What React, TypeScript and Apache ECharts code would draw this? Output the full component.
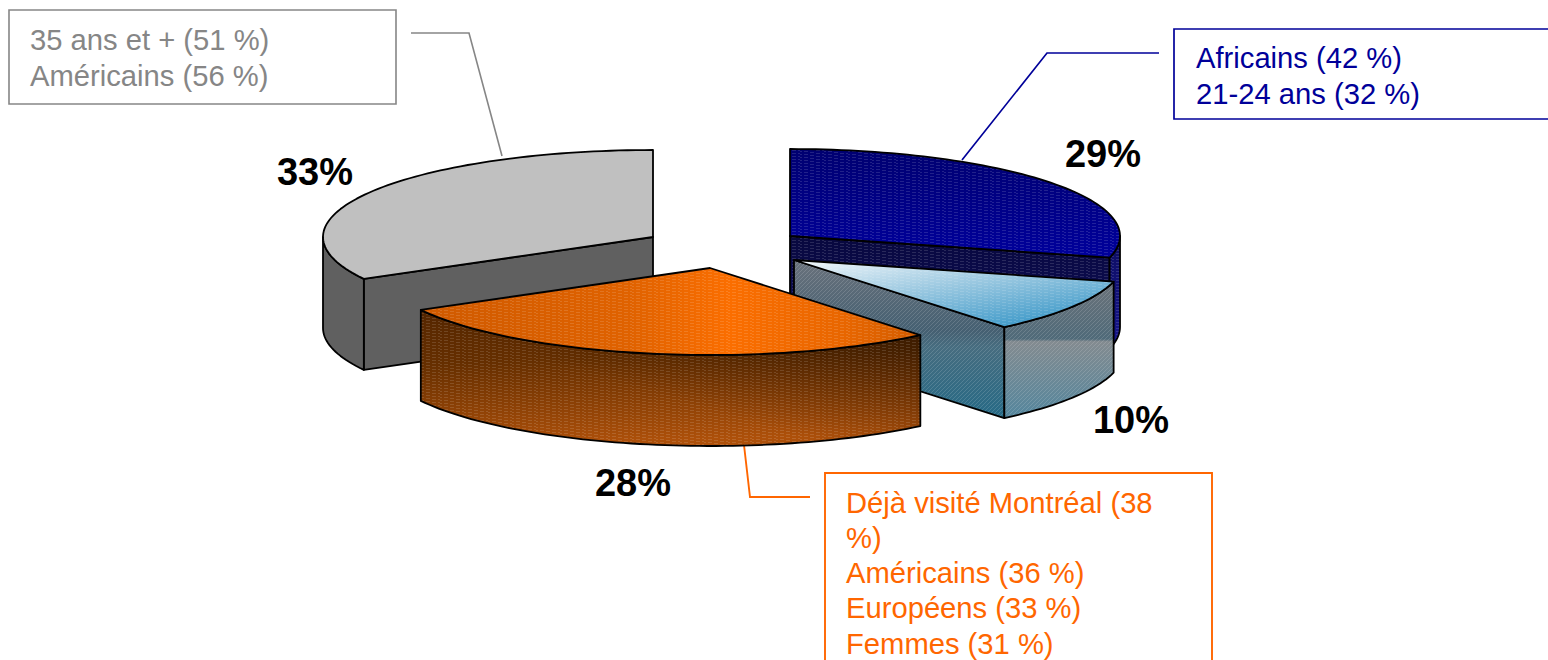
import React, { useEffect, useRef } from "react";
import * as echarts from "echarts";

// ---- data (pie order, clockwise from 12 o'clock)
const sliceNames = ["Bleu", "Bleu clair", "Orange", "Gris"];
const sliceValues = [29, 10, 28, 33];
const drawOrder = [3, 0, 1, 2];

const grayCallout = ["35 ans et + (51 %)", "Américains (56 %)"];
const blueCallout = ["Africains (42 %)", "21-24 ans (32 %)"];
const orangeCallout = ["Déjà visité Montréal (38", "%)", "Américains (36 %)", "Européens (33 %)", "Femmes (31 %)"];

// ---- layout
const RX = 330;
const RY = 87;
const DEPTH = 91;
const centers = [[790, 236], [794, 260], [710, 268], [653, 237]];
const labelPos = [[1103, 154], [1131, 420], [633, 483], [315, 172]];
const FONT = '"Liberation Sans", Arial, sans-serif';

const lin = (x: number, y: number, x2: number, y2: number, stops: [number, string][]) => ({
  type: "linear", x, y, x2, y2, colorStops: stops.map(([offset, color]) => ({ offset, color })),
});

const fills: any[] = [
  {
    top: lin(0, 0, 0, 1, [[0, "#000070"], [1, "#00009c"]]),
    side: lin(0, 0, 0, 1, [[0, "#0c0c60"], [1, "#18188e"]]),
    cut: lin(0, 0, 0, 1, [[0, "#08083e"], [1, "#101060"]]),
    hatch: "soft",
  },
  {
    top: lin(0, 0, 0.75, 1, [[0, "#f4f8fb"], [0.45, "#a0cbe2"], [1, "#3b98c8"]]),
    side: lin(0, 0, 0, 1, [[0, "#6c737a"], [0.42, "#4f6a79"], [0.44, "#838b90"], [1, "#54869d"]]),
    cut: lin(0, 0, 0, 1, [[0, "#6a727c"], [0.45, "#456072"], [0.55, "#476d80"], [1, "#266a86"]]),
    hatch: "diag",
  },
  {
    top: lin(0, 0, 1, 0, [[0, "#cf5a00"], [0.42, "#e06200"], [0.62, "#fb6e00"], [0.85, "#e86600"], [1, "#d25c00"]]),
    side: lin(0, 0, 0.12, 1, [[0, "#552600"], [0.4, "#662f00"], [1, "#ad500a"]]),
    shade: lin(0.45, 0.6, 1, 0.1, [[0, "rgba(0,0,0,0)"], [1, "rgba(0,0,0,0.42)"]]),
    cut: "#552600",
    hatch: "soft",
  },
  { top: "#c0c0c0", side: "#606060", cut: "#606060", hatch: null },
];

const hatchAlpha: Record<string, number> = { soft: 0.13, diag: 0.14 };

function makeTile(kind: string) {
  const c = document.createElement("canvas");
  const w = kind === "diag" ? 4 : 24;
  const h = kind === "diag" ? 4 : 12;
  c.width = w;
  c.height = h;
  const ctx = c.getContext("2d")!;
  ctx.fillStyle = `rgba(255,255,255,${hatchAlpha[kind]})`;
  if (kind === "diag") {
    for (let i = 0; i < 4; i++) ctx.fillRect(i, 3 - i, 1, 1);
  } else {
    for (let x = 0; x < w; x++) {
      if (x % 6 > 3) continue;
      for (let k = 0; k < 4; k++) ctx.fillRect(x, (Math.floor(x / 8) + 3 * k) % h, 1, 1);
    }
  }
  return { image: c.toDataURL(), repeat: "repeat", imageWidth: w, imageHeight: h };
}

const pt = (c: number[], a: number, dy = 0): number[] => [
  c[0] + RX * Math.sin((a * Math.PI) / 180),
  c[1] - RY * Math.cos((a * Math.PI) / 180) + dy,
];

function arc(c: number[], a0: number, a1: number, dy = 0) {
  const pts: number[][] = [];
  const n = Math.max(2, Math.ceil(Math.abs(a1 - a0) / 1.5));
  for (let i = 0; i <= n; i++) pts.push(pt(c, a0 + ((a1 - a0) * i) / n, dy));
  return pts;
}

function face(points: number[][], fill: any, hatch: any, shade?: any) {
  const out: any[] = [{ type: "polygon", shape: { points }, style: { fill, stroke: "none" }, silent: true }];
  if (shade) out.push({ type: "polygon", shape: { points }, style: { fill: shade, stroke: "none" }, silent: true });
  if (hatch) out.push({ type: "polygon", shape: { points }, style: { fill: hatch, stroke: "none" }, silent: true });
  out.push({
    type: "polygon",
    shape: { points },
    style: { fill: "none", stroke: "#000", lineWidth: 1.8, lineJoin: "round" },
    silent: true,
  });
  return out;
}

function callout(lines: string[], color: string, x: number, ys: number[], box: number[], leader: number[][], lw: number) {
  return [
    {
      type: "rect",
      silent: true,
      shape: { x: box[0], y: box[1], width: box[2], height: box[3] },
      style: { fill: "#fff", stroke: color, lineWidth: lw },
    },
    { type: "polyline", silent: true, shape: { points: leader }, style: { fill: "none", stroke: color, lineWidth: lw } },
    ...lines.map((t, i) => ({
      type: "text",
      silent: true,
      x,
      y: ys[i],
      style: { text: t, fill: color, font: `29.2px ${FONT}`, verticalAlign: "middle", align: "left" },
    })),
  ];
}

export default function App() {
  const ref = useRef<HTMLDivElement>(null);
  useEffect(() => {
    document.body.style.margin = "0";
    const chart = echarts.init(ref.current!, undefined, { renderer: "svg" });
    const tiles: Record<string, any> = { soft: makeTile("soft"), diag: makeTile("diag") };
    const total = sliceValues.reduce((a, b) => a + b, 0);
    const starts: number[] = [];
    let acc = 0;
    sliceValues.forEach((v) => {
      starts.push((acc / total) * 360);
      acc += v;
    });
    chart.setOption({
      animation: false,
      graphic: [
        ...callout(grayCallout, "#868686", 30, [40, 76], [9, 10, 387, 94], [[411, 33], [469, 33], [502, 156]], 1.6),
        ...callout(blueCallout, "#000099", 1196, [58, 94], [1174, 29, 400, 90], [[1159, 53], [1047, 53], [962, 160]], 1.7),
        ...callout(orangeCallout, "#ff6600", 846, [503, 538, 573, 608, 644], [825, 473, 387, 220], [[744, 445], [750, 497], [810, 497]], 1.9),
      ],
      series: [
        {
          type: "custom",
          coordinateSystem: "none",
          silent: true,
          data: drawOrder.map((i) => ({ name: sliceNames[i], value: [i, sliceValues[i]] })),
          renderItem: (_p: any, api: any) => {
            const i = api.value(0);
            const a0 = starts[i];
            const a1 = a0 + (api.value(1) / total) * 360;
            const c = centers[i];
            const f = fills[i];
            const hatch = f.hatch ? tiles[f.hatch] : null;
            const children: any[] = [];
            const cutFace = (a: number) => {
              const p = pt(c, a);
              children.push(...face([c, p, [p[0], p[1] + DEPTH], [c[0], c[1] + DEPTH]], f.cut, hatch));
            };
            if (Math.sin((a0 * Math.PI) / 180) < -1e-6) cutFace(a0);
            if (Math.sin((a1 * Math.PI) / 180) > 1e-6) cutFace(a1);
            const s0 = Math.max(a0, 90);
            const s1 = Math.min(a1, 270);
            if (s1 > s0) {
              const pts = [...arc(c, s0, s1), ...arc(c, s1, s0, DEPTH)];
              children.push(...face(pts, f.side, hatch, f.shade));
            }
            children.push(...face([c, ...arc(c, a0, a1)], f.top, f.hatch === "diag" ? tiles.soft : hatch));
            children.push({
              type: "text",
              silent: true,
              x: labelPos[i][0],
              y: labelPos[i][1],
              style: {
                text: `${api.value(1)}%`,
                fill: "#000",
                font: `bold 38px ${FONT}`,
                align: "center",
                verticalAlign: "middle",
              },
            });
            return { type: "group", children };
          },
        },
      ],
    });
    return () => chart.dispose();
  }, []);
  return <div ref={ref} style={{ position: "absolute", left: 0, top: 0, width: 1548, height: 660, background: "#fff" }} />;
}
